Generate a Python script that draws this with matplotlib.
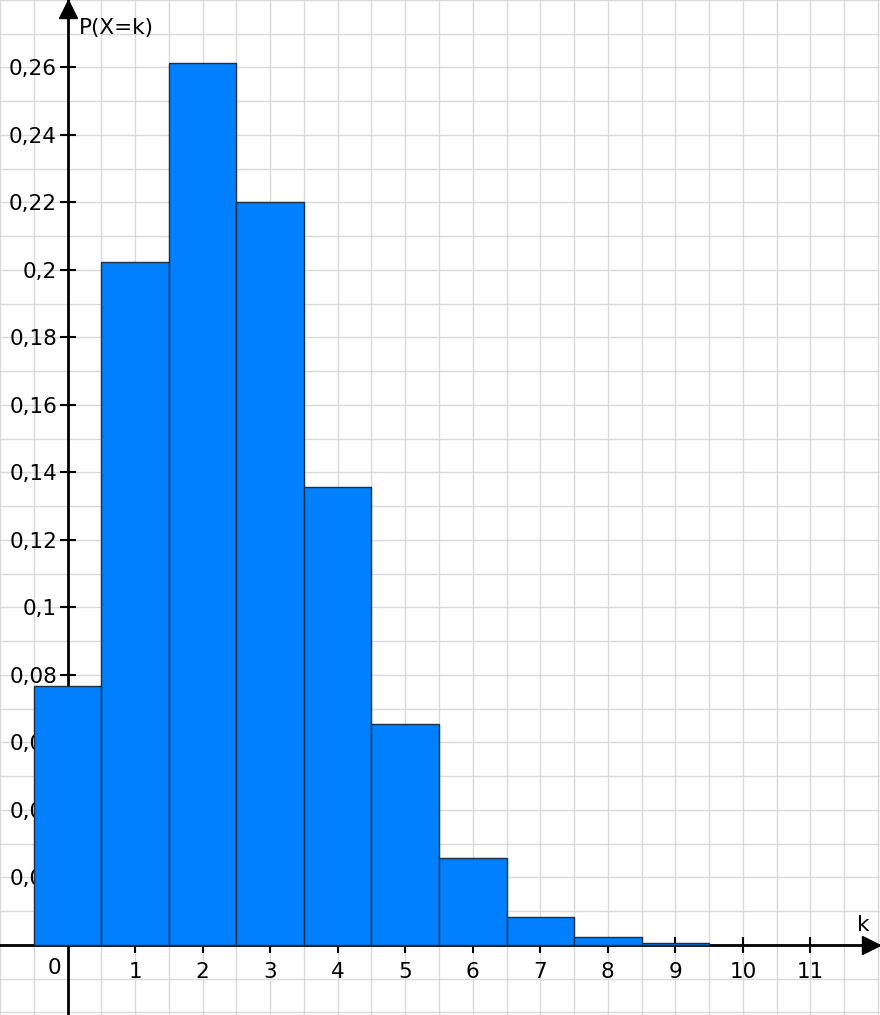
import matplotlib
matplotlib.use("Agg")
import matplotlib.pyplot as plt
from matplotlib.ticker import MultipleLocator, FuncFormatter, FixedLocator

# Values
k_values = [0, 1, 2, 3, 4, 5, 6, 7, 8, 9]
probabilities = [0.0768, 0.2025, 0.2612, 0.2200, 0.1358, 0.0655, 0.0258,
                 0.0083, 0.0022, 0.0005]
y_ticks = [0.02, 0.04, 0.06, 0.08, 0.10, 0.12, 0.14, 0.16, 0.18, 0.20, 0.22, 0.24, 0.26]
x_ticks = [1, 2, 3, 4, 5, 6, 7, 8, 9, 10, 11]

bar_color = "#0080ff"
edge_color = "#1c2f45"
grid_color = "#d9d9d9"
fs = 15.5

fig = plt.figure(figsize=(8.8, 10.15), dpi=100)
ax = fig.add_axes([0, 0, 1, 1])
ax.set_xlim(-1.0, 12.03)
ax.set_ylim(-0.0208, 0.28)

# grid of small squares
ax.xaxis.set_major_locator(FixedLocator(x_ticks))
ax.xaxis.set_minor_locator(MultipleLocator(0.5))
ax.yaxis.set_major_locator(FixedLocator(y_ticks))
ax.yaxis.set_minor_locator(MultipleLocator(0.01))
ax.grid(which="both", color=grid_color, linewidth=1.0)
ax.tick_params(which="minor", length=0)


def comma_fmt(v, pos):
    s = "{:.2f}".format(v).rstrip("0")
    return s.replace(".", ",")


ax.yaxis.set_major_formatter(FuncFormatter(comma_fmt))

for side in ["top", "right"]:
    ax.spines[side].set_visible(False)
ax.spines["left"].set_position(("data", 0))
ax.spines["bottom"].set_position(("data", 0))
for side in ["left", "bottom"]:
    ax.spines[side].set_linewidth(2.0)
    ax.spines[side].set_zorder(2.5)

ax.tick_params(which="major", direction="inout", length=11, width=1.5,
               labelsize=fs, color="black")
ax.tick_params(axis="x", which="major", pad=7)
ax.tick_params(axis="y", which="major", pad=2)

ax.bar(k_values, probabilities, width=1.0, color=bar_color, edgecolor=edge_color,
       linewidth=1.0, zorder=3)

# arrow heads
ax.plot(11.90, 0, marker=">", color="black", markersize=13, clip_on=False, zorder=4)
ax.plot(0, 0.2772, marker="^", color="black", markersize=13, clip_on=False, zorder=4)

ax.text(-0.19, -0.0070, "0", fontsize=fs, ha="center", va="center")
ax.text(0.17, 0.2717, "P(X=k)", fontsize=fs, ha="left", va="center")
ax.text(11.78, 0.0058, "k", fontsize=fs, ha="center", va="center")

fig.savefig("out.png", dpi=100)
